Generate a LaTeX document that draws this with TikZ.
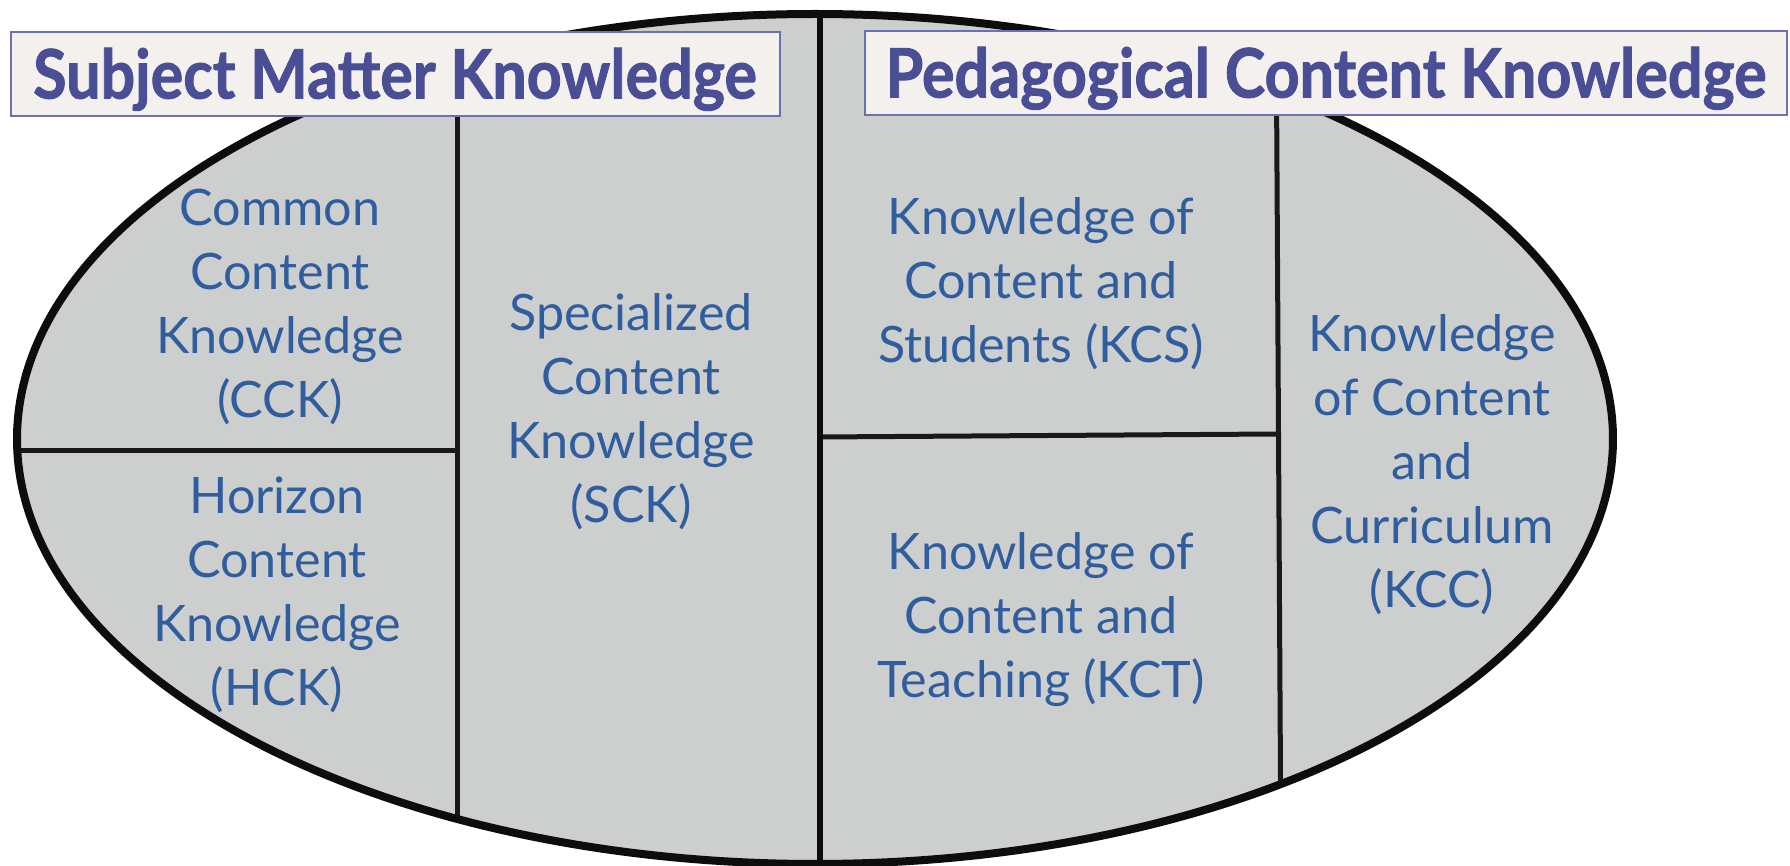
\documentclass[tikz,border=0pt]{standalone}
\usepackage{fontspec}
\setmainfont{Lato}
\newfontfamily\titlefont[FakeStretch=0.895, BoldFeatures={FakeBold=1.3}]{Lato}
\usetikzlibrary{positioning}
\definecolor{titleblue}{RGB}{74,78,148}
\definecolor{textblue}{RGB}{47,93,158}
\definecolor{boxline}{RGB}{108,112,176}
\definecolor{boxfill}{RGB}{243,240,238}
\definecolor{ovalgray}{RGB}{205,207,206}

\begin{document}
\begin{tikzpicture}[x=0.1mm, y=-0.1mm,
  part/.style = {align=center, text=textblue, inner sep=0pt,
    font=\fontsize{14.3}{18.2}\selectfont},
  heading/.style = {draw=boxline, line width=0.2mm, fill=boxfill, text=titleblue,
    inner sep=0pt, text height=4.9mm, text depth=0pt,
    font=\titlefont\bfseries\fontsize{19.4}{22}\selectfont},
  divider/.style = {line width=0.5mm, black!90},
  oval/.style = {x radius=79.8mm, y radius=42.5mm}]
  \useasboundingbox (0,0) rectangle (1790,866);
  \fill[ovalgray] (815,439) ellipse [oval];
  \begin{scope}
    \clip (815,439) ellipse [oval];
    \draw[divider] (457,0) -- (457,866);
    \draw[divider] (0,451) -- (457,451);
    \draw[divider] (1276,0) -- (1281,866);
    \draw[divider] (820,437) -- (1278,434);
    \draw[line width=0.65mm, black!95] (820,0) -- (820,866);
  \end{scope}
  \draw[line width=0.8mm, black!95] (815,439) ellipse [oval];
  % the two headings
  \node[heading, minimum width=76.9mm, minimum height=8.4mm] (smk) at (395,74) {Subject Matter Knowledge};
  \node[heading, minimum width=92.2mm, minimum height=8.4mm] (pck) at (1326,73) {Pedagogical Content Knowledge};
  % subject matter side
  \node[part] (cck) at (280,307) {Common\\Content\\Knowledge\\(CCK)};
  \node[part] (hck) at (277,595) {Horizon\\Content\\Knowledge\\(HCK)};
  \node[part] (sck) at (631,412) {Specialized\\Content\\Knowledge\\(SCK)};
  % pedagogical side
  \node[part] (kcs) at (1041,284) {Knowledge of\\Content and\\Students (KCS)};
  \node[part] (kct) at (1041,620) {Knowledge of\\Content and\\Teaching (KCT)};
  \node[part] (kcc) at (1432,465) {Knowledge\\of Content\\and\\Curriculum\\(KCC)};
\end{tikzpicture}
\end{document}
